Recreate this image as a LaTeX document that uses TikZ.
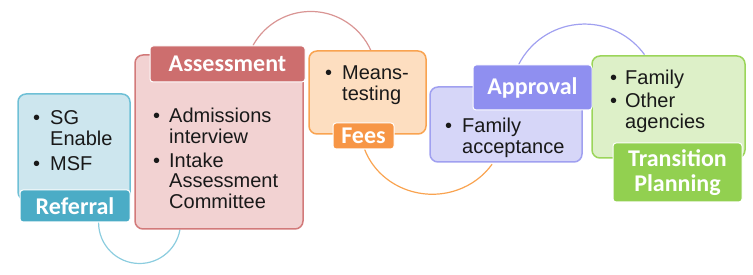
\documentclass[tikz,border=0pt]{standalone}
\usepackage{fontspec}
\setmainfont{Liberation Sans}
\newfontfamily\lblfont{Carlito}
\usetikzlibrary{backgrounds}

\definecolor{refdark}{HTML}{4BACC6}
\definecolor{refline}{HTML}{6FC0D6}
\definecolor{reffill}{HTML}{CDE6EE}
\definecolor{refarc}{HTML}{8CCDDF}
\definecolor{asdark}{HTML}{CD6E6E}
\definecolor{asline}{HTML}{D27A7A}
\definecolor{asfill}{HTML}{F2D2D2}
\definecolor{asarc}{HTML}{D99594}
\definecolor{feesdark}{HTML}{F79646}
\definecolor{feesline}{HTML}{F9A350}
\definecolor{feesfill}{HTML}{FDDEC0}
\definecolor{apprdark}{HTML}{8F8FF0}
\definecolor{apprline}{HTML}{A0A0F0}
\definecolor{apprfill}{HTML}{D6D6F8}
\definecolor{trdark}{HTML}{92D050}
\definecolor{trline}{HTML}{9BD55A}
\definecolor{trfill}{HTML}{DDF0C8}

\tikzset{
  box/.style={draw, rounded corners=8pt, line width=1.5pt, inner sep=0pt},
  lbl/.style={draw=white, rounded corners=3pt, line width=1pt, inner sep=0pt,
    text=white, align=center, font=\lblfont\bfseries\fontsize{24}{25}\selectfont},
  lst/.style={anchor=base west, inner sep=0pt, text=black!90,
    font=\fontsize{20}{20.5}\selectfont},
  arcline/.style={line width=1.2pt},
}
\newcommand{\bul}{\textbullet}

\begin{document}
\begin{tikzpicture}[x=1pt, y=1pt]
  \useasboundingbox (0,0) rectangle (753,275);

  % boxes
  \node[box, draw=refline, fill=reffill, minimum width=112, minimum height=106] (refbox) at (74,128) {};
  \node[box, draw=asline, fill=asfill, minimum width=168, minimum height=174] (asbox) at (219,133) {};
  \node[box, draw=feesline, fill=feesfill, minimum width=117, minimum height=83] (feesbox) at (367.5,182.5) {};
  \node[box, draw=apprline, fill=apprfill, minimum width=152, minimum height=75] (apprbox) at (506,150.5) {};
  \node[box, draw=trline, fill=trfill, minimum width=153, minimum height=102] (trbox) at (668.5,168) {};

  % labels
  \node[lbl, fill=refdark, minimum width=110, minimum height=32] (reflbl) at (75,69) {Referral};
  \node[lbl, fill=asdark, minimum width=155, minimum height=36] (aslbl) at (227.5,211) {Assessment};
  \node[lbl, fill=feesdark, minimum width=61, minimum height=26] (feeslbl) at (363.5,139) {Fees};
  \node[lbl, fill=apprdark, minimum width=119, minimum height=45] (apprlbl) at (532.5,187.5) {Approval};
  \node[lbl, fill=trdark, minimum width=129, minimum height=59] (trlbl) at (677.5,102.5) {Transition\\Planning};

  % bullet lists
  \node[lst] (reftxt) at (33,150) {\begin{tabular}[t]{@{}p{17pt}@{}l@{}}
    \bul & SG\\ & Enable\\[4pt] \bul & MSF\end{tabular}};
  \node[lst] (astxt) at (153,152) {\begin{tabular}[t]{@{}p{16pt}@{}l@{}}
    \bul & Admissions\\ & interview\\[3pt] \bul & Intake\\ & Assessment\\ & Committee\end{tabular}};
  \node[lst] (feestxt) at (325,195) {\begin{tabular}[t]{@{}p{17pt}@{}l@{}}
    \bul & Means-\\ & testing\end{tabular}};
  \node[lst] (apprtxt) at (445,142) {\begin{tabular}[t]{@{}p{17pt}@{}l@{}}
    \bul & Family\\ & acceptance\end{tabular}};
  \node[lst] (trtxt) at (610,190) {\begin{tabular}[t]{@{}p{15pt}@{}l@{}}
    \bul & Family\\[2pt] \bul & Other\\ & agencies\end{tabular}};

  % connecting arcs, behind the boxes
  \begin{scope}[on background layer]
    \draw[arcline, refarc] (reflbl.-35) arc[start angle=180, end angle=350, radius=41];
    \draw[arcline, asarc] (aslbl.36) arc[start angle=151, end angle=23, radius=66];
    \draw[arcline, feesline] (feeslbl.-85) arc[start angle=200, end angle=326, x radius=72, y radius=68];
    \draw[arcline, apprline] (apprlbl.121) arc[start angle=153, end angle=36, radius=74];
  \end{scope}
\end{tikzpicture}
\end{document}
